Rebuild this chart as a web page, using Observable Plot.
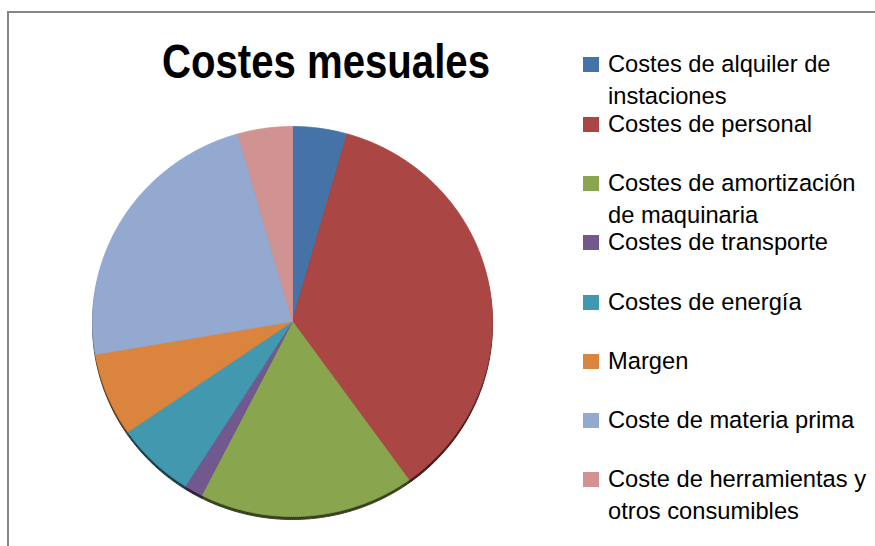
<!DOCTYPE html>
<html>
<head>
<meta charset="utf-8">
<script src="https://cdn.jsdelivr.net/npm/d3@7"></script>
<script src="https://cdn.jsdelivr.net/npm/@observablehq/plot@0.6"></script>
<style>
  html, body { margin: 0; padding: 0; background: #fff; }
  #wrap { position: relative; width: 875px; height: 546px; overflow: hidden; background: #fff; }
  #frame { position: absolute; left: 7px; top: 11px; width: 900px; height: 600px;
           border-left: 2px solid #868686; border-top: 2px solid #868686; box-sizing: border-box; }
  #chart { position: absolute; left: 0; top: 0; }
  #overlay { position: absolute; left: 0; top: 0; }
  .sw { position: absolute; width: 16px; height: 15px; }
</style>
</head>
<body>
<div id="wrap">
  <div id="frame"></div>
  <div id="chart"></div>
  <svg id="overlay" width="875" height="546"></svg>
</div>
<script>
// ---- data ----
const title = "Costes mesuales";
const categories = [
  "Costes de alquiler de instaciones",
  "Costes de personal",
  "Costes de amortización de maquinaria",
  "Costes de transporte",
  "Costes de energía",
  "Margen",
  "Coste de materia prima",
  "Coste de herramientas y otros consumibles"
];
const values = [4.4, 35.7, 17.4, 1.5, 6.4, 6.9, 23.3, 4.4];
const colors = ["#4572A7", "#AA4643", "#89A54E", "#71588F", "#4198AF", "#DB843D", "#93A9CF", "#D19392"];
const legendLines = [
  ["Costes de alquiler de", "instaciones"],
  ["Costes de personal"],
  ["Costes de amortización", "de maquinaria"],
  ["Costes de transporte"],
  ["Costes de energía"],
  ["Margen"],
  ["Coste de materia prima"],
  ["Coste de herramientas y", "otros consumibles"]
];

// ---- pie geometry from the values ----
const arcs = d3.pie().sort(null).value(d => d)(values);
const pts = [];
arcs.forEach((a, i) => {
  const cat = categories[i];
  const n = Math.max(4, Math.ceil((a.endAngle - a.startAngle) / 0.01));
  pts.push({cat, x: 0, y: 0});
  for (let k = 0; k <= n; k++) {
    const t = a.startAngle + (a.endAngle - a.startAngle) * k / n;
    pts.push({cat, x: Math.sin(t), y: Math.cos(t)});
  }
  pts.push({cat, x: 0, y: 0});
});

const chart = Plot.plot({
  width: 875,
  height: 546,
  margin: 0,
  style: {background: "transparent"},
  x: {domain: [-1, 1], range: [92, 492], axis: null},
  y: {domain: [-1, 1], range: [516, 126], axis: null},
  color: {domain: categories, range: colors},
  marks: [
    Plot.line(pts, {x: "x", y: "y", z: "cat", fill: "cat", stroke: "cat", strokeWidth: 1, dy: 3, curve: "linear"}),
    Plot.line(pts, {x: "x", y: "y", z: "cat", fill: "cat", stroke: "cat", strokeWidth: 0.8, curve: "linear"})
  ]
});
const groups = chart.querySelectorAll('g[aria-label="line"]');
if (groups.length) groups[0].style.filter = "brightness(0.4)";
document.getElementById("chart").appendChild(chart);

// ---- title & legend ----
const ov = d3.select("#overlay");
ov.append("text")
  .attr("x", 162).attr("y", 78)
  .attr("textLength", 328).attr("lengthAdjust", "spacingAndGlyphs")
  .style("font-family", "'Liberation Sans', Arial, sans-serif")
  .style("font-weight", "bold").style("font-size", "48px").style("fill", "#000")
  .text(title);

const wrap = document.getElementById("wrap");
legendLines.forEach((lines, i) => {
  const base = 72.3 + 59.3 * i;
  const sw = document.createElement("div");
  sw.className = "sw";
  sw.style.left = "583px";
  sw.style.top = (base - 15) + "px";
  sw.style.background = colors[i];
  wrap.appendChild(sw);
  lines.forEach((ln, j) => {
    ov.append("text")
      .attr("x", 608).attr("y", base + 32 * j)
      .style("font-family", "'Liberation Sans', Arial, sans-serif")
      .style("font-size", "23.7px").style("fill", "#000")
      .text(ln);
  });
});
</script>
</body>
</html>
